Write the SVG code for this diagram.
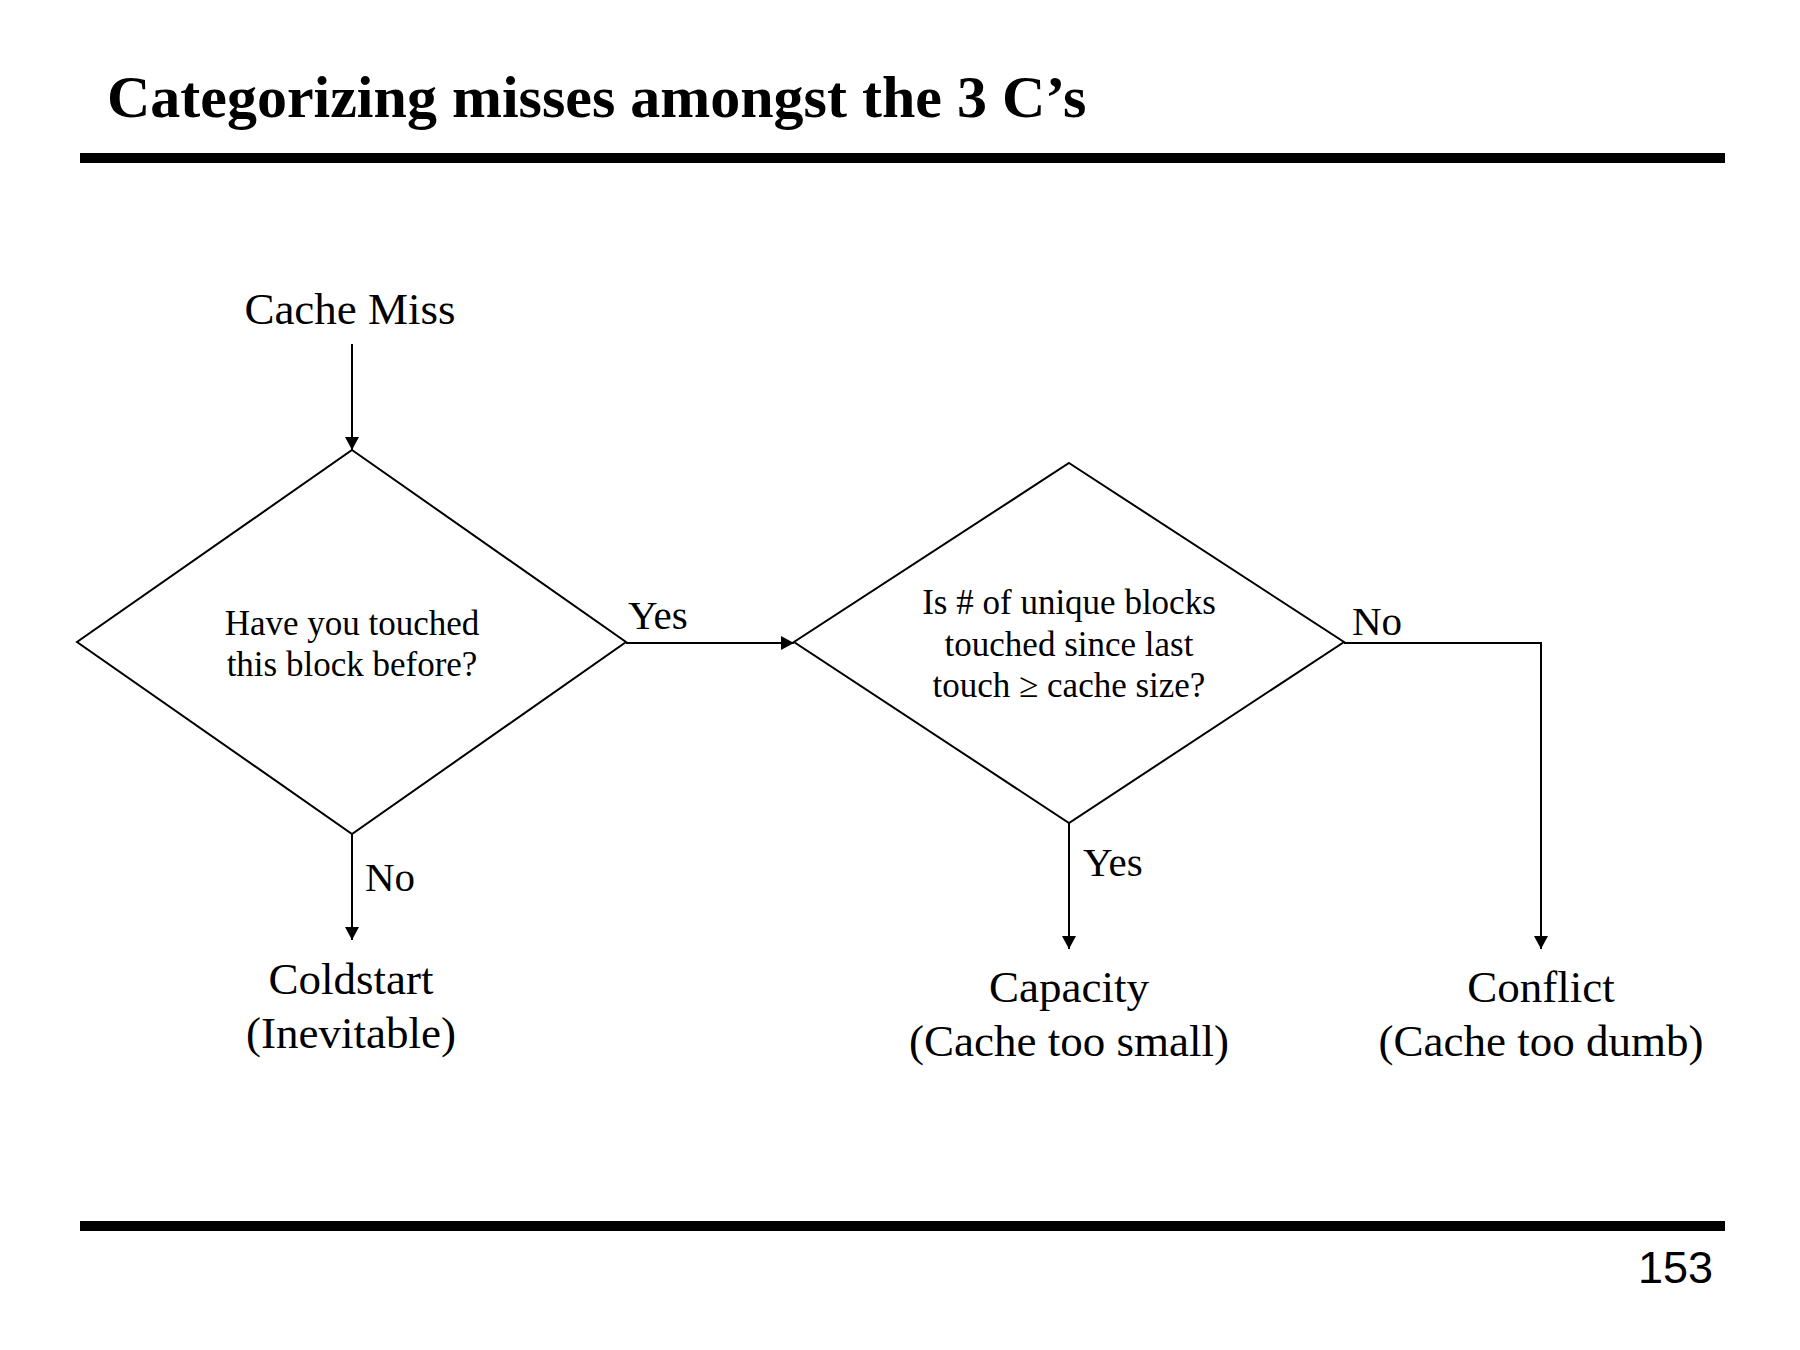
<svg xmlns="http://www.w3.org/2000/svg" width="1800" height="1350" viewBox="0 0 1800 1350">
  <style>
    .serif { font-family: "Liberation Serif", "Times New Roman", serif; fill: #000; }
    .title { font-size: 60px; font-weight: bold; }
    .q { font-size: 35px; text-anchor: middle; }
    .lbl { font-size: 41px; }
    .term { font-size: 45px; text-anchor: middle; }
    .shape { fill: #fff; stroke: #000; stroke-width: 2; }
    .conn { fill: none; stroke: #000; stroke-width: 2; }
    .rule { fill: #000; }
    .pnum { font-family: "Liberation Sans", Arial, sans-serif; font-size: 45px; text-anchor: end; fill: #000; }
  </style>
  <defs>
    <marker id="arrow" markerUnits="userSpaceOnUse" markerWidth="14" markerHeight="14" refX="13" refY="7" orient="auto">
      <path d="M0,0 L13,7 L0,14 z" fill="#000"/>
    </marker>
  </defs>
  <rect width="1800" height="1350" fill="#fff"/>

  <text class="serif title" x="107" y="117">Categorizing misses amongst the 3 C’s</text>
  <rect class="rule" x="80" y="153" width="1645" height="10"/>
  <rect class="rule" x="80" y="1221" width="1645" height="10"/>
  <text class="pnum" x="1713" y="1283">153</text>

  <g id="connectors">
    <line class="conn" x1="352" y1="344" x2="352" y2="450" marker-end="url(#arrow)"/>
    <line class="conn" x1="626" y1="643" x2="794" y2="643" marker-end="url(#arrow)"/>
    <line class="conn" x1="352" y1="834" x2="352" y2="940" marker-end="url(#arrow)"/>
    <line class="conn" x1="1069" y1="823" x2="1069" y2="949" marker-end="url(#arrow)"/>
    <polyline class="conn" points="1344,643 1541,643 1541,949" marker-end="url(#arrow)"/>
    <text class="serif lbl" x="628" y="629">Yes</text>
    <text class="serif lbl" x="365" y="891">No</text>
    <text class="serif lbl" x="1352" y="635">No</text>
    <text class="serif lbl" x="1083" y="876">Yes</text>
  </g>

  <g id="start">
    <text class="serif term" x="350" y="324">Cache Miss</text>
  </g>

  <g id="decision1">
    <polygon class="shape" points="352,450 626,642 352,834 77,642"/>
    <text class="serif q" x="352" y="635">Have you touched</text>
    <text class="serif q" x="352" y="676">this block before?</text>
  </g>

  <g id="decision2">
    <polygon class="shape" points="1069,463 1344,642 1069,823 794,642"/>
    <text class="serif q" x="1069" y="614">Is # of unique blocks</text>
    <text class="serif q" x="1069" y="656">touched since last</text>
    <text class="serif q" x="1069" y="697">touch ≥ cache size?</text>
  </g>

  <g id="coldstart">
    <text class="serif term" x="351" y="994">Coldstart</text>
    <text class="serif term" x="351" y="1048">(Inevitable)</text>
  </g>

  <g id="capacity">
    <text class="serif term" x="1069" y="1002">Capacity</text>
    <text class="serif term" x="1069" y="1056">(Cache too small)</text>
  </g>

  <g id="conflict">
    <text class="serif term" x="1541" y="1002">Conflict</text>
    <text class="serif term" x="1541" y="1056">(Cache too dumb)</text>
  </g>
</svg>
